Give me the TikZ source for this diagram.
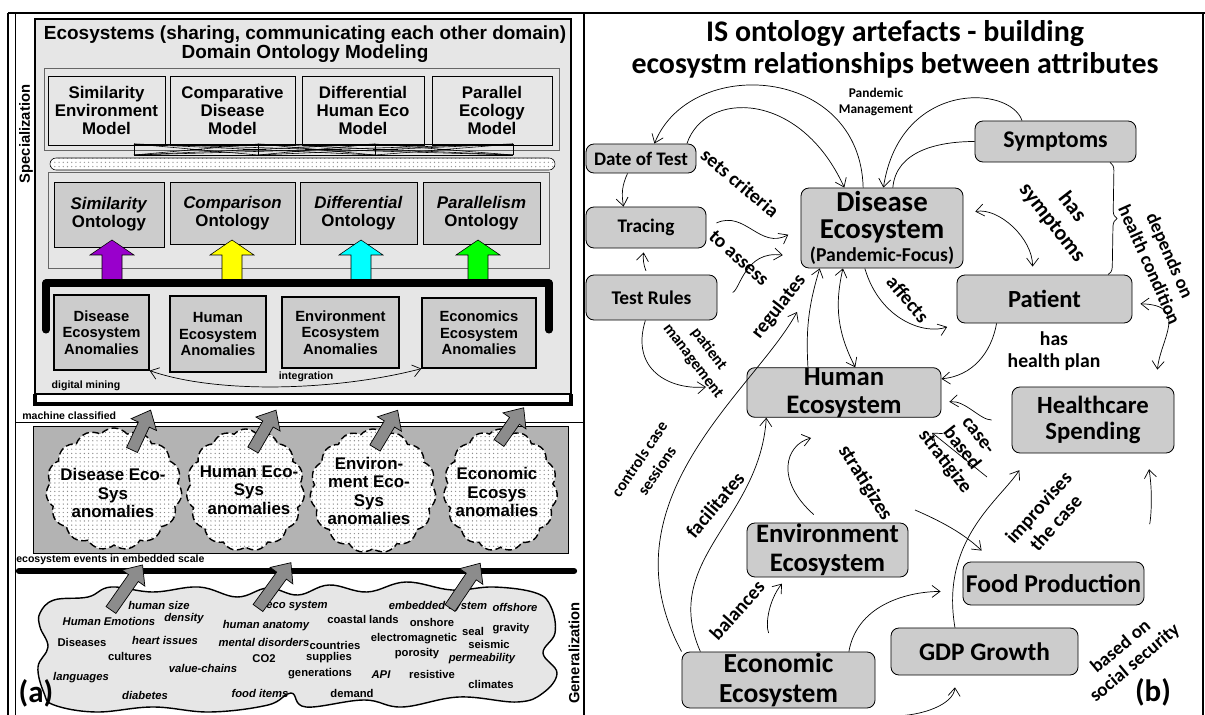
\documentclass[tikz,border=0pt]{standalone}
\usepackage{fontspec}
\setmainfont{Liberation Sans}
\newfontfamily\calfont{Carlito}
\usetikzlibrary{positioning,shapes.symbols,patterns,arrows.meta,decorations.pathreplacing}

\definecolor{boxgray}{HTML}{CCCCCC}
\definecolor{panelgray}{HTML}{E6E6E6}
\definecolor{darkpanel}{HTML}{B3B3B3}
\definecolor{arrowgray}{HTML}{8C8C8C}
\definecolor{ontviolet}{RGB}{153,0,204}
\definecolor{ontyellow}{RGB}{255,255,0}
\definecolor{ontcyan}{RGB}{0,255,255}
\definecolor{ontgreen}{RGB}{0,255,0}

\tikzset{
  lbox/.style={draw, align=center, inner sep=0pt, font=\bfseries\fontsize{12}{12.8}\selectfont},
  lanom/.style={draw, line width=0.9pt, fill=boxgray, align=center, inner sep=0pt, font=\bfseries\fontsize{10.5}{11.7}\selectfont},
  lsmall/.style={inner sep=0pt, font=\bfseries\fontsize{7.5}{8}\selectfont},
  word/.style={inner sep=0pt, font=\bfseries\fontsize{8}{9}\selectfont},
  anocloud/.style={cloud, cloud puffs=15, cloud puff arc=100, cloud ignores aspect, draw, line width=1pt, dash pattern=on 5pt off 2.5pt, preaction={fill=white}, pattern=dots, pattern color=black!45, inner sep=0pt},
  cloudtext/.style={align=center, inner sep=0pt, font=\bfseries\fontsize{12}{13}\selectfont},
  rbox/.style 2 args={draw, line width=0.6pt, fill=boxgray, rounded corners=2mm, align=center, inner sep=0pt, font=\calfont\bfseries\fontsize{#1}{#2}\selectfont},
  rlabel/.style 2 args={align=center, inner sep=0pt, font=\calfont\bfseries\fontsize{#1}{#2}\selectfont},
  conn/.style={-{Straight Barb[length=2mm,width=3mm]}, line width=0.5pt},
  conn2/.style={{Straight Barb[length=2mm,width=3mm]}-{Straight Barb[length=2mm,width=3mm]}, line width=0.5pt}
}

\begin{document}
\begin{tikzpicture}[x=0.025cm, y=-0.025cm]
	\useasboundingbox (0,0) rectangle (1205,715);
	% Panel frames
	\draw[line width=2pt] (8,13) -- (1205,13);
	\draw[line width=1.2pt] (8,13) -- (8,715);
	\draw[line width=0.6pt] (15,13) -- (15,715);
	\draw[line width=1.2pt] (584,13) -- (584,715);
	\draw[line width=1.2pt] (1203,13) -- (1203,715);
	\draw[line width=0.5pt] (15,422) -- (584,422);

	% (a) Domain ontology block
	\node[draw, line width=2pt, fill=panelgray, minimum width=134mm, minimum height=93.75mm] (dom) at (303,206.5) {};
	\draw[line width=3pt] (35,394) -- (35,404) -- (571,404) -- (571,394);
	\node[align=center, inner sep=0pt, font=\bfseries\fontsize{13.5}{13.5}\selectfont] (domt) at (305,44)
		{Ecosystems (sharing, communicating each other domain)\\Domain Ontology Modeling};

	% Models
	\node[draw=black!60, fill=panelgray, minimum width=128.75mm, minimum height=20.5mm] (mcon) at (301.5,109) {};
	\node[lbox, fill=panelgray, minimum width=29.25mm, minimum height=17.25mm] (m1) at (106.5,110.5) {Similarity\\Environment\\Model};
	\node[lbox, fill=panelgray, minimum width=31.25mm, minimum height=17.25mm] (m2) at (232.5,110.5) {Comparative\\Disease\\Model};
	\node[lbox, fill=panelgray, minimum width=30.5mm, minimum height=17.25mm] (m3) at (363,110.5) {Differential\\Human Eco\\Model};
	\node[lbox, fill=panelgray, minimum width=30mm, minimum height=17.25mm] (m4) at (492,110.5) {Parallel\\Ecology\\Model};
	\foreach \a in {134,258,375,513} \draw (\a,144) -- (\a,155);
	\draw (134,144) -- (513,144) (134,155) -- (513,155);
	\foreach \a/\b in {134/258,134/375,134/513,258/375,258/513,375/513}
		\draw (\a,144) -- (\b,155) (\a,155) -- (\b,144);
	\draw[rounded corners=1.5mm, preaction={fill=white}, pattern=dots, pattern color=black!40] (50,158) rectangle (555,170);

	% Ontologies
	\node[draw=black!60, fill=panelgray, minimum width=125.25mm, minimum height=24mm] (ocon) at (298.5,220) {};
	\node[lbox, fill=boxgray, minimum width=27.5mm, minimum height=16.25mm] (o1) at (109,214.5) {\textit{Similarity}\\Ontology};
	\node[lbox, fill=boxgray, minimum width=31.25mm, minimum height=15.5mm] (o2) at (232.5,213) {\textit{Comparison}\\Ontology};
	\node[lbox, fill=boxgray, minimum width=29.25mm, minimum height=15.5mm] (o3) at (358.5,213) {\textit{Differential}\\Ontology};
	\node[lbox, fill=boxgray, minimum width=29.25mm, minimum height=15.5mm] (o4) at (481.5,213) {\textit{Parallelism}\\Ontology};
	\foreach \x/\c in {112/ontviolet,232/ontyellow,361/ontcyan,478/ontgreen}
		\draw[fill=\c] (\x-10,282) -- (\x-10,255) -- (\x-22,255) -- (\x,240) -- (\x+22,255) -- (\x+10,255) -- (\x+10,282) -- cycle;
	\draw[line width=5pt, line cap=round, line join=round] (46,330) -- (46,283) -- (549,283) -- (549,330);

	% Anomalies
	\node[lanom, minimum width=23.75mm, minimum height=18.75mm] (a1) at (101.5,332.5) {Disease\\Ecosystem\\Anomalies};
	\node[lanom, minimum width=24mm, minimum height=19mm] (a2) at (218,334) {Human\\Ecosystem\\Anomalies};
	\node[lanom, minimum width=29.25mm, minimum height=17.75mm] (a3) at (340.5,332.5) {Environment\\Ecosystem\\Anomalies};
	\node[lanom, minimum width=28.5mm, minimum height=17.5mm] (a4) at (479,333) {Economics\\Ecosystem\\Anomalies};
	\draw[conn2] (a1.south east) .. controls (220,395) and (340,390) .. (a4.south west);
	\node[lsmall] (intg) at (306,377) {integration};
	\node[lsmall] (dmin) at (86,386) {digital mining};
	\node[lsmall, anchor=west] (mcls) at (22,416) {machine classified};

	% Anomaly clouds
	\node[draw, fill=darkpanel, minimum width=133.75mm, minimum height=31.75mm] (dpan) at (300.5,489.5) {};
	\node[anocloud, minimum width=34mm, minimum height=30.5mm] (c1) at (114,489) {};
	\node[anocloud, minimum width=29.5mm, minimum height=30.5mm] (c2) at (245.5,490) {};
	\node[anocloud, minimum width=31.5mm, minimum height=31mm] (c3) at (373,491) {};
	\node[anocloud, minimum width=28.5mm, minimum height=30.5mm] (c4) at (500.5,490) {};
	\node[cloudtext] (ct1) at (113,493) {Disease Eco-\\Sys\\anomalies};
	\node[cloudtext] (ct2) at (249,490) {Human Eco-\\Sys\\anomalies};
	\node[cloudtext] (ct3) at (369,491) {Environ-\\ment Eco-\\Sys\\anomalies};
	\node[cloudtext] (ct4) at (497,492) {Economic\\Ecosys\\anomalies};
	\node[lsmall, anchor=west] (evs) at (16,560) {ecosystem events in embedded scale};
	\draw[line width=4.5pt, line cap=round] (19,571) -- (574,571);

	% Raw data cloud
	\draw[line width=1pt, fill=panelgray] plot[smooth cycle, tension=0.65] coordinates {
		(40,613) (54,600) (88,597) (111,587) (153,592) (199,587) (237,597) (268,588) (298,595) (329,585)
		(367,592) (406,582) (452,590) (494,587) (536,593) (551,607) (555,633) (543,653) (557,673) (543,693)
		(517,702) (459,697) (402,707) (364,700) (306,707) (291,693) (268,705) (210,712) (153,707) (96,712)
		(54,705) (44,693) (38,667) (48,647) (40,627)};
	\foreach \x/\y/\w [count=\i] in {159/605/\itshape human size, 109/621/\itshape Human Emotions, 184/619/\itshape density,
		297/606/\itshape eco system, 266/626/\itshape human anatomy, 363/619/coastal lands, 432/622/onshore,
		438/607/\itshape embedded system, 515/607/\itshape offshore, 473/631/seal, 511/629/gravity,
		82/642/Diseases, 165/640/\itshape heart issues, 264/642/\itshape mental disorders, 335/645/countries,
		414/639/electromagnetic, 489/644/seismic, 130/656/cultures, 264/659/CO2, 329/658/supplies,
		417/654/porosity, 482/659/\itshape permeability, 203/668/\itshape value-chains, 81/678/\itshape languages,
		320/674/generations, 381/675/\itshape API, 432/674/resistive, 491/684/climates,
		145/695/\itshape diabetes, 260/693/\itshape food items, 352/693/demand}
		\node[word] (w\i) at (\x,\y) {\w};

	% Grey lift arrows
	\foreach \tx/\ty/\ang/\len in {132/450/-25/44, 253/450/-30/46, 375/448/-31/44, 499/443/-35/43,
		111/610/-35/55, 258/608/-36/56, 450/608/-34/54}
		\draw[fill=arrowgray, line width=0.5pt, shift={(\tx,\ty)}, rotate=\ang]
			(-6,0) -- (-6,16-\len) -- (-14,16-\len) -- (0,-\len) -- (14,16-\len) -- (6,16-\len) -- (6,0) -- cycle;

	\node[rotate=90, inner sep=0pt, font=\bfseries\fontsize{10.5}{11}\selectfont] (spec) at (26,134) {Specialization};
	\node[rotate=90, inner sep=0pt, font=\bfseries\fontsize{10.5}{11}\selectfont] (gen) at (574,653) {Generalization};
	\node[rlabel={22}{24}] (pa) at (36,693) {(a)};

	% (b) Ontology artefacts
	\node[rlabel={21.3}{22.8}] (ttl) at (895,49) {IS ontology artefacts - building\\ecosystm relationships between attributes};
	\node[rbox={13.6}{15}, minimum width=27.5mm, minimum height=7.25mm] (dat) at (641,158.5) {Date of Test};
	\node[rbox={17}{19}, minimum width=40.25mm, minimum height=10.25mm] (sym) at (1055.5,141.5) {Symptoms};
	\node[rbox={13.7}{15}, minimum width=30mm, minimum height=10.25mm] (tra) at (646,227.5) {Tracing};
	\node[rbox={13.8}{15}, minimum width=32.75mm, minimum height=11.25mm] (tes) at (651.5,297.5) {Test Rules};
	\node[rbox={20.5}{19.2}, minimum width=40.5mm, minimum height=20mm] (dis) at (882,228)
		{Disease\\Ecosystem\\[-3pt]{\fontsize{14}{15}\selectfont(Pandemic-Focus)}};
	\node[rbox={17.5}{19}, minimum width=43.75mm, minimum height=12mm] (pat) at (1044.5,299) {Patient};
	\node[rbox={19}{20}, minimum width=48.5mm, minimum height=12.25mm] (hum) at (844,392.5) {Human\\Ecosystem};
	\node[rbox={17.6}{19}, minimum width=40.5mm, minimum height=16.5mm] (hea) at (1093,420) {Healthcare\\Spending};
	\node[rbox={19}{20.6}, minimum width=40.25mm, minimum height=13.5mm] (env) at (827.5,550) {Environment\\Ecosystem};
	\node[rbox={18.2}{19}, minimum width=45.25mm, minimum height=10.75mm] (foo) at (1053.5,583.5) {Food Production};
	\node[rbox={18}{19}, minimum width=46.75mm, minimum height=11.75mm] (gdp) at (984.5,651.5) {GDP Growth};
	\node[rbox={19.6}{21}, minimum width=48.25mm, minimum height=14mm] (eco) at (778.5,680) {Economic\\Ecosystem};

	% Free ends
	\coordinate (pm) at (706,387);
	\coordinate (rg) at (797,312);
	\coordinate (cb) at (987,477);
	\coordinate (hk) at (811,438);
	\coordinate (st) at (915,510);
	\coordinate (bt) at (893,716);

	% Connectors
	\draw[conn] (dis.115) .. controls (860,65) and (690,55) .. (dat.48);
	\draw[conn] (dat.18) .. controls (705,90) and (800,90) .. (dis.133);
	\draw[conn] (sym.148) .. controls (1010,85) and (900,80) .. (dis.88);
	\draw[line width=0.5pt] (sym.west) to[out=180,in=85] (dis.75);
	\draw[conn] (dat.-132) to[out=-115,in=100] (tra.137);
	\draw[conn, shorten <=2.75mm, shorten >=3.5mm] (tra.east) .. controls (745,210) and (760,250) .. (dis.west);
	\draw[conn, shorten <=4mm, shorten >=4.5mm] (tes.east) .. controls (740,290) and (745,250) .. (dis.-160);
	\draw[conn, shorten <=1mm, shorten >=1mm] (tes.100) to[bend left=15] (tra.-95);
	\draw[conn] (tes.-105) .. controls (630,370) and (670,390) .. (pm);
	\draw[conn] (eco.north west) .. controls (600,500) and (755,390) .. (rg);
	\draw[conn] (eco.160) .. controls (660,560) and (760,520) .. (hum.-162);
	\draw[conn] (hum.145) to[bend left=10] (dis.-147);
	\draw[conn2] (hum.66) to[bend left=20] (dis.-134);
	\draw[conn, shorten >=2.5mm] (dis.-113) .. controls (880,320) and (925,335) .. (pat.south west);
	\draw[conn2, shorten <=3mm, shorten >=2mm] (dis.10) to[out=10,in=90] (pat.116);
	\draw[decorate, decoration={brace, amplitude=2mm}, line width=0.5pt] (sym.-21) -- (pat.21);
	\draw[conn2, shorten <=2mm, shorten >=4.25mm] (pat.-3) .. controls (1190,305) and (1160,340) .. (hea.28);
	\draw[conn] (pat.-153) to[out=-100,in=5] (hum.8);
	\draw[conn, shorten <=5mm, shorten >=2mm] (hea.west) .. controls (980,420) and (965,400) .. (hum.-6);
	\draw[conn, shorten >=6mm] (cb) -- (hum.-20);
	\draw[conn, shorten <=3mm] (env.100) .. controls (775,480) and (785,445) .. (hk);
	\draw[conn, shorten >=4mm] (st) to[bend left=10] (foo.160);
	\draw[conn, shorten >=5mm] (gdp.141) .. controls (940,540) and (1000,500) .. (hea.-152);
	\draw[conn, shorten <=10mm, shorten >=4mm] (foo.15) to[bend right=15] (hea.-32);
	\draw[conn, shorten <=5mm, shorten >=2mm] (eco.95) to[bend left=30] (env.-146);
	\draw[conn, shorten >=5.5mm] (eco.22) to[out=80,in=180] (foo.-175);
	\draw[conn, shorten >=3mm] (bt) to[out=0,in=-95] (gdp.-140);

	% Connector labels
	\node[rlabel={9.5}{12}] (lpm) at (876,102) {Pandemic\\Management};
	\node[rlabel={14}{15}, rotate=-40] (lsc) at (740,183) {sets criteria};
	\node[rlabel={14}{15}, rotate=-42] (lta) at (739,258) {to assess};
	\node[rlabel={14}{15}, rotate=52] (lrg) at (779,307) {regulates};
	\node[rlabel={14}{15}, rotate=-50] (laf) at (908,299) {affects};
	\node[rlabel={15.5}{18}, rotate=-52] (lhs) at (1062,215) {has\\symptoms};
	\node[rlabel={13.3}{16}, rotate=-66] (ldh) at (1160,260) {depends on\\health condition};
	\node[rlabel={14}{15.6}] (lhp) at (1054,351) {has\\health plan};
	\node[rlabel={11.5}{14}, rotate=-53] (lpa) at (701,355) {patient\\management};
	\node[rlabel={11.5}{15}, rotate=56] (lcc) at (648,465) {controls case\\sessions};
	\node[rlabel={14}{15}, rotate=50] (lfa) at (715,505) {facilitates};
	\node[rlabel={14.5}{15}, rotate=-58] (lst) at (865,483) {stratigizes};
	\node[rlabel={14}{15}, rotate=-52] (lcb) at (960,450) {case-\\based\\stratigize};
	\node[rlabel={14}{16.5}, rotate=48] (lim) at (1047,515) {improvises\\the case};
	\node[rlabel={14}{15}, rotate=48] (lba) at (737,610) {balances};
	\node[rlabel={13.5}{15.5}, rotate=40] (lbs) at (1128,655) {based on\\social security};
	\node[rlabel={22}{24}] (pb) at (1153,692) {(b)};
\end{tikzpicture}
\end{document}
